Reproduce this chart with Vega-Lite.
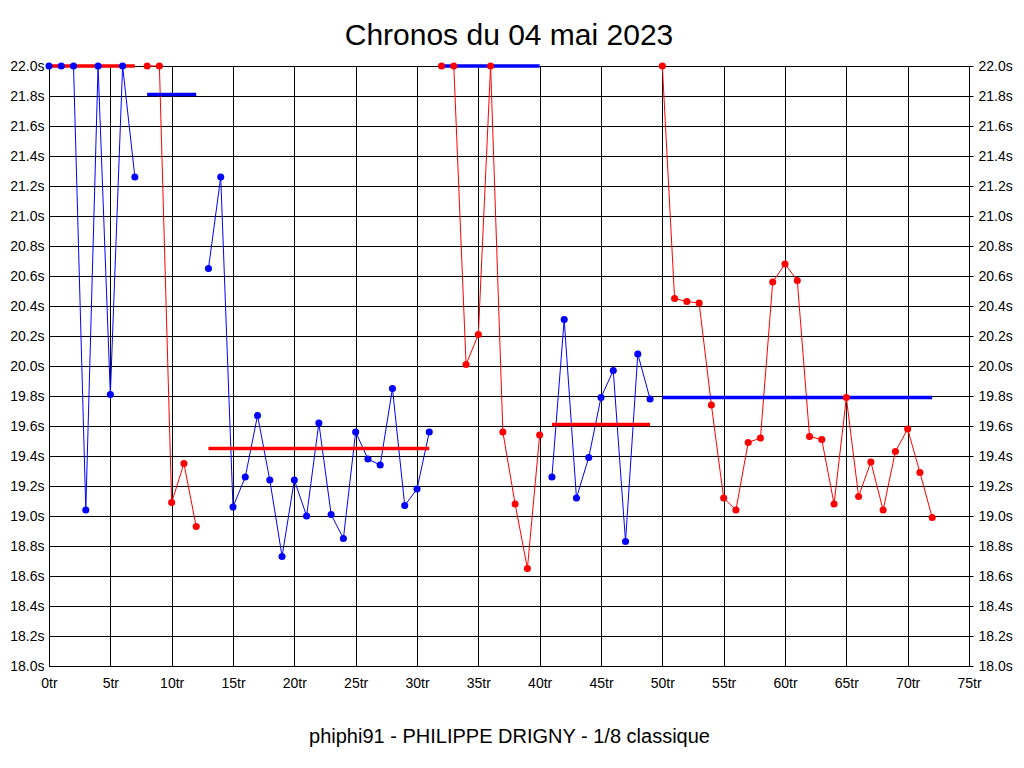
{
  "$schema": "https://vega.github.io/schema/vega-lite/v6.json",
  "width": 920,
  "height": 600,
  "autosize": {"type": "none"},
  "padding": {"left": 49, "top": 66, "right": 55, "bottom": 102},
  "background": "white",
  "title": {"text": "Chronos du 04 mai 2023", "font": "Liberation Sans", "fontSize": 30, "fontWeight": "normal", "color": "black", "anchor": "middle", "frame": "group", "baseline": "alphabetic", "offset": -16},
  "datasets": {
    "pts": [
      {"seg": "A", "c": "blue", "x": 0, "y": 22.0},
      {"seg": "A", "c": "blue", "x": 1, "y": 22.0},
      {"seg": "A", "c": "blue", "x": 2, "y": 22.0},
      {"seg": "A", "c": "blue", "x": 3, "y": 19.04},
      {"seg": "A", "c": "blue", "x": 4, "y": 22.0},
      {"seg": "A", "c": "blue", "x": 5, "y": 19.81},
      {"seg": "A", "c": "blue", "x": 6, "y": 22.0},
      {"seg": "A", "c": "blue", "x": 7, "y": 21.26},
      {"seg": "B", "c": "red", "x": 8, "y": 22.0},
      {"seg": "B", "c": "red", "x": 9, "y": 22.0},
      {"seg": "B", "c": "red", "x": 10, "y": 19.09},
      {"seg": "B", "c": "red", "x": 11, "y": 19.35},
      {"seg": "B", "c": "red", "x": 12, "y": 18.93},
      {"seg": "C", "c": "blue", "x": 13, "y": 20.65},
      {"seg": "C", "c": "blue", "x": 14, "y": 21.26},
      {"seg": "C", "c": "blue", "x": 15, "y": 19.06},
      {"seg": "C", "c": "blue", "x": 16, "y": 19.26},
      {"seg": "C", "c": "blue", "x": 17, "y": 19.67},
      {"seg": "C", "c": "blue", "x": 18, "y": 19.24},
      {"seg": "C", "c": "blue", "x": 19, "y": 18.73},
      {"seg": "C", "c": "blue", "x": 20, "y": 19.24},
      {"seg": "C", "c": "blue", "x": 21, "y": 19.0},
      {"seg": "C", "c": "blue", "x": 22, "y": 19.62},
      {"seg": "C", "c": "blue", "x": 23, "y": 19.01},
      {"seg": "C", "c": "blue", "x": 24, "y": 18.85},
      {"seg": "C", "c": "blue", "x": 25, "y": 19.56},
      {"seg": "C", "c": "blue", "x": 26, "y": 19.38},
      {"seg": "C", "c": "blue", "x": 27, "y": 19.34},
      {"seg": "C", "c": "blue", "x": 28, "y": 19.85},
      {"seg": "C", "c": "blue", "x": 29, "y": 19.07},
      {"seg": "C", "c": "blue", "x": 30, "y": 19.18},
      {"seg": "C", "c": "blue", "x": 31, "y": 19.56},
      {"seg": "D", "c": "red", "x": 32, "y": 22.0},
      {"seg": "D", "c": "red", "x": 33, "y": 22.0},
      {"seg": "D", "c": "red", "x": 34, "y": 20.01},
      {"seg": "D", "c": "red", "x": 35, "y": 20.21},
      {"seg": "D", "c": "red", "x": 36, "y": 22.0},
      {"seg": "D", "c": "red", "x": 37, "y": 19.56},
      {"seg": "D", "c": "red", "x": 38, "y": 19.08},
      {"seg": "D", "c": "red", "x": 39, "y": 18.65},
      {"seg": "D", "c": "red", "x": 40, "y": 19.54},
      {"seg": "E", "c": "blue", "x": 41, "y": 19.26},
      {"seg": "E", "c": "blue", "x": 42, "y": 20.31},
      {"seg": "E", "c": "blue", "x": 43, "y": 19.12},
      {"seg": "E", "c": "blue", "x": 44, "y": 19.39},
      {"seg": "E", "c": "blue", "x": 45, "y": 19.79},
      {"seg": "E", "c": "blue", "x": 46, "y": 19.97},
      {"seg": "E", "c": "blue", "x": 47, "y": 18.83},
      {"seg": "E", "c": "blue", "x": 48, "y": 20.08},
      {"seg": "E", "c": "blue", "x": 49, "y": 19.78},
      {"seg": "F", "c": "red", "x": 50, "y": 22.0},
      {"seg": "F", "c": "red", "x": 51, "y": 20.45},
      {"seg": "F", "c": "red", "x": 52, "y": 20.43},
      {"seg": "F", "c": "red", "x": 53, "y": 20.42},
      {"seg": "F", "c": "red", "x": 54, "y": 19.74},
      {"seg": "F", "c": "red", "x": 55, "y": 19.12},
      {"seg": "F", "c": "red", "x": 56, "y": 19.04},
      {"seg": "F", "c": "red", "x": 57, "y": 19.49},
      {"seg": "F", "c": "red", "x": 58, "y": 19.52},
      {"seg": "F", "c": "red", "x": 59, "y": 20.56},
      {"seg": "F", "c": "red", "x": 60, "y": 20.68},
      {"seg": "F", "c": "red", "x": 61, "y": 20.57},
      {"seg": "F", "c": "red", "x": 62, "y": 19.53},
      {"seg": "F", "c": "red", "x": 63, "y": 19.51},
      {"seg": "F", "c": "red", "x": 64, "y": 19.08},
      {"seg": "F", "c": "red", "x": 65, "y": 19.79},
      {"seg": "F", "c": "red", "x": 66, "y": 19.13},
      {"seg": "F", "c": "red", "x": 67, "y": 19.36},
      {"seg": "F", "c": "red", "x": 68, "y": 19.04},
      {"seg": "F", "c": "red", "x": 69, "y": 19.43},
      {"seg": "F", "c": "red", "x": 70, "y": 19.58},
      {"seg": "F", "c": "red", "x": 71, "y": 19.29},
      {"seg": "F", "c": "red", "x": 72, "y": 18.99}
    ],
    "avg": [
      {"seg": "A", "c": "red", "x": 0, "x2": 7, "y": 22.0},
      {"seg": "B", "c": "blue", "x": 8, "x2": 12, "y": 21.81},
      {"seg": "C", "c": "red", "x": 13, "x2": 31, "y": 19.45},
      {"seg": "D", "c": "blue", "x": 32, "x2": 40, "y": 22.0},
      {"seg": "E", "c": "red", "x": 41, "x2": 49, "y": 19.61},
      {"seg": "F", "c": "blue", "x": 50, "x2": 72, "y": 19.79}
    ]
  },
  "layer": [
    {
      "encoding": {
        "x": {"field": "x", "type": "quantitative", "scale": {"domain": [0, 75], "nice": false, "zero": false},
          "axis": {"values": [0,5,10,15,20,25,30,35,40,45,50,55,60,65,70,75], "labelExpr": "datum.value + 'tr'", "labelFlush": false, "labelOverlap": false, "grid": true, "ticks": false, "domain": false, "labelPadding": 10,
            "title": "phiphi91 - PHILIPPE DRIGNY - 1/8 classique", "titleFont": "Liberation Sans", "titleFontSize": 20, "titleFontWeight": "normal", "titleColor": "black", "titlePadding": 36}},
        "y": {"field": "y", "type": "quantitative", "scale": {"domain": [18, 22], "nice": false, "zero": false},
          "axis": {"orient": "left", "values": [18,18.2,18.4,18.6,18.8,19,19.2,19.4,19.6,19.8,20,20.2,20.4,20.6,20.8,21,21.2,21.4,21.6,21.8,22], "labelExpr": "format(datum.value, '.1f') + 's'", "labelFlush": false, "labelOverlap": false, "grid": true, "ticks": false, "domain": false, "labelPadding": 5, "title": null}},
        "color": {"field": "c", "type": "nominal", "scale": {"domain": ["blue", "red"], "range": ["#0000ff", "#ff0000"]}, "legend": null}
      },
      "layer": [
        {"data": {"name": "pts"}, "mark": {"type": "line", "strokeWidth": 1, "interpolate": "linear"}, "encoding": {"detail": {"field": "seg"}}},
        {"data": {"name": "avg"}, "mark": {"type": "rule", "strokeWidth": 3.5}, "encoding": {"x2": {"field": "x2"}}},
        {"data": {"name": "pts"}, "mark": {"type": "point", "filled": true, "size": 50, "opacity": 1, "shape": "circle"}}
      ]
    },
    {
      "data": {"name": "pts"},
      "mark": {"type": "point", "opacity": 0},
      "encoding": {
        "x": {"field": "x", "type": "quantitative", "scale": {"domain": [0, 75], "nice": false, "zero": false}},
        "y": {"field": "y", "type": "quantitative", "scale": {"domain": [18, 22], "nice": false, "zero": false},
          "axis": {"orient": "right", "values": [18,18.2,18.4,18.6,18.8,19,19.2,19.4,19.6,19.8,20,20.2,20.4,20.6,20.8,21,21.2,21.4,21.6,21.8,22], "labelExpr": "format(datum.value, '.1f') + 's'", "labelFlush": false, "labelOverlap": false, "grid": false, "ticks": true, "tickSize": 4, "tickColor": "black", "domain": false, "labelPadding": 5, "title": null}}
      }
    }
  ],
  "resolve": {"scale": {"y": "independent"}, "axis": {"y": "independent"}},
  "config": {
    "view": {"stroke": "black", "strokeWidth": 1},
    "axis": {"labelFont": "Liberation Sans", "labelFontSize": 14, "labelColor": "black", "gridColor": "black", "gridOpacity": 1, "gridWidth": 1}
  }
}
